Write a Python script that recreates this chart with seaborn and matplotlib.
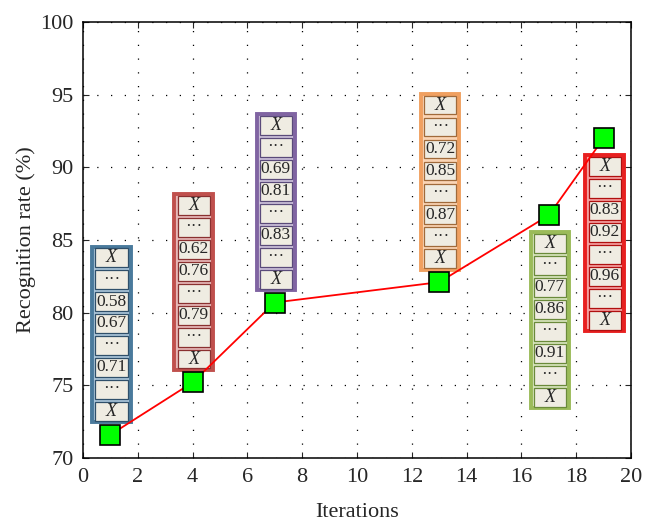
import matplotlib
matplotlib.use("Agg")
import matplotlib.pyplot as plt
import matplotlib.patches as patches
import seaborn as sns
import pandas as pd

# Dados do gráfico
iterations = [1, 4, 7, 13, 17, 19]
recognition = [71.6, 75.2, 80.7, 82.1, 86.7, 92.0]

# Conteúdo das colunas de cada iteração (de cima para baixo)
col_1 = ["X", "···", "0.58", "0.67", "···", "0.71", "···", "X"]
col_2 = ["X", "···", "0.62", "0.76", "···", "0.79", "···", "X"]
col_3 = ["X", "···", "0.69", "0.81", "···", "0.83", "···", "X"]
col_4 = ["X", "···", "0.72", "0.85", "···", "0.87", "···", "X"]
col_5 = ["X", "···", "0.77", "0.86", "···", "0.91", "···", "X"]
col_6 = ["X", "···", "0.83", "0.92", "···", "0.96", "···", "X"]
columns = [col_1, col_2, col_3, col_4, col_5, col_6]

frame_colors = ["#4a7a9c", "#c0504d", "#8064a2", "#f0a060", "#9bbb59", "#e82020"]
frame_fills = ["#a9c4d8", "#e6b8b7", "#ccc0da", "#fbd5b5", "#d7e4bc", "#f4a0a0"]
cell_edges = ["#2f4f6a", "#8a3030", "#5a4a7a", "#a06a3a", "#6a8a3a", "#b01010"]
placement = ["above", "above", "above", "above", "below", "below"]

df = pd.DataFrame({"iter": iterations, "rate": recognition})

sns.set_style("ticks")
plt.rcParams["font.family"] = ["Liberation Serif", "DejaVu Serif"]

fig = plt.figure(figsize=(6.57, 5.26), dpi=100)
ax = fig.add_axes([0.1263, 0.1293, 0.8341, 0.8287])

# Colunas de valores
box_w, box_h = 1.4, 12.1
pitch = box_h / 8
for x, y, cells, fc, ff, ce, pos in zip(iterations, recognition, columns,
                                         frame_colors, frame_fills, cell_edges, placement):
    left = x - box_w / 2 + 0.04
    bottom = y + 0.85 if pos == "above" else y - 1.17 - box_h
    ax.add_patch(patches.Rectangle((left, bottom), box_w, box_h, facecolor=ff,
                                   edgecolor=fc, linewidth=2.8, zorder=3))
    for i, txt in enumerate(cells):
        cb = bottom + box_h - (i + 1) * pitch + 0.11
        ax.add_patch(patches.Rectangle((left + 0.11, cb), box_w - 0.22, pitch - 0.22,
                                       facecolor="#efece2", edgecolor=ce,
                                       linewidth=0.9, zorder=4))
        style = "italic" if txt == "X" else "normal"
        size = 13 if txt == "X" else 12.5
        ax.text(left + box_w / 2, cb + (pitch - 0.22) / 2, txt, ha="center",
                va="center", fontsize=size, style=style, zorder=5)

# Linha com marcadores
sns.lineplot(data=df, x="iter", y="rate", ax=ax, color="red", linewidth=1.3,
             marker="s", markersize=14, markerfacecolor="#00ff00",
             markeredgecolor="black", markeredgewidth=1.2, zorder=6)

ax.set_xlim(0, 20)
ax.set_ylim(70, 100)
ax.set_xticks(range(0, 21, 2))
ax.set_yticks(range(70, 101, 5))
ax.grid(True, color="black", linestyle=(0, (1, 10)), linewidth=0.9)
ax.tick_params(direction="in", labelsize=16, top=True, right=True, length=4)
ax.tick_params(axis="y", pad=7)
ax.tick_params(axis="x", pad=7)
for s in ax.spines.values():
    s.set_color("black")
    s.set_linewidth(1.1)

ax.set_xlabel("Iterations", fontsize=16, labelpad=12)
ax.set_ylabel("Recognition rate (%)", fontsize=16, labelpad=3)

fig.savefig("out.png", dpi=100)
